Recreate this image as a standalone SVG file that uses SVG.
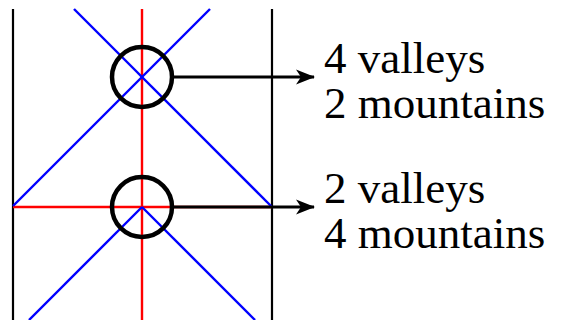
<svg xmlns="http://www.w3.org/2000/svg" width="569" height="320" viewBox="0 0 569 320">
  <style>
    .edge { stroke: #000; stroke-width: 2.2; fill: none; }
    .red { stroke: #ff0000; stroke-width: 2.4; fill: none; }
    .blue { stroke: #0000ff; stroke-width: 2.4; fill: none; }
    .ring { stroke: #000; stroke-width: 4.5; fill: none; }
    .conn { stroke: #000; stroke-width: 3; fill: none; }
  </style>
  <defs>
    <marker id="arrow" markerUnits="userSpaceOnUse" markerWidth="24" markerHeight="18" viewBox="-20 -9 22 18" refX="0" refY="0" orient="auto">
      <path d="M1,0 L-18,-7.5 L-13,0 L-18,7.5 Z" fill="#000"/>
    </marker>
  </defs>
  <rect width="569" height="320" fill="#fff"/>
  <g id="creases">
    <line class="edge" x1="13" y1="9" x2="13" y2="320"/>
    <line class="edge" x1="272" y1="9" x2="272" y2="320"/>
    <line class="red" x1="142" y1="9" x2="142" y2="320"/>
    <line class="red" x1="13" y1="207" x2="272" y2="207"/>
    <line class="blue" x1="74" y1="9" x2="272" y2="207"/>
    <line class="blue" x1="210" y1="9" x2="13" y2="206"/>
    <line class="blue" x1="142" y1="207" x2="29" y2="320"/>
    <line class="blue" x1="142" y1="207" x2="255" y2="320"/>
  </g>
  <g id="vertex-top">
    <circle class="ring" cx="142" cy="77" r="30"/>
  </g>
  <g id="vertex-bottom">
    <circle class="ring" cx="142" cy="207" r="30"/>
  </g>
  <g id="connectors">
    <line class="conn" x1="173" y1="77" x2="314" y2="77" marker-end="url(#arrow)"/>
    <line class="conn" x1="173" y1="207" x2="314" y2="207" marker-end="url(#arrow)"/>
  </g>
  <g id="label-top">
    <text x="324" y="73" font-family="Liberation Serif" font-size="45">4 valleys</text>
    <text x="324" y="118" font-family="Liberation Serif" font-size="45">2 mountains</text>
  </g>
  <g id="label-bottom">
    <text x="324" y="203" font-family="Liberation Serif" font-size="45">2 valleys</text>
    <text x="324" y="248" font-family="Liberation Serif" font-size="45">4 mountains</text>
  </g>
</svg>
